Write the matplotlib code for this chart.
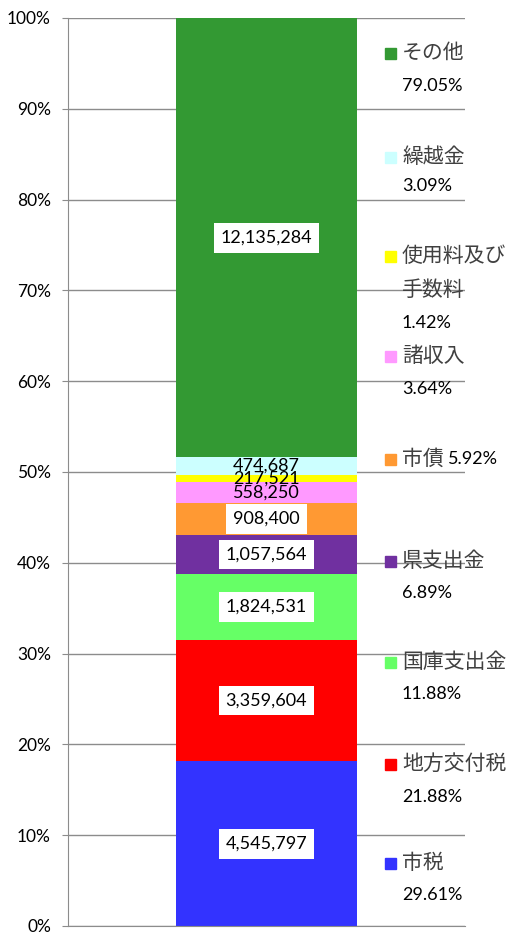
"""Single 100% stacked bar of revenue sources."""
import matplotlib
matplotlib.use('Agg')
from matplotlib import pyplot as plt
from matplotlib.patches import Rectangle
from matplotlib.ticker import PercentFormatter

categories = ['市税', '地方交付税', '国庫支出金', '県支出金', '市債',
              '諸収入', '使用料及び手数料', '繰越金', 'その他']
values = [4545797, 3359604, 1824531, 1057564, 908400,
          558250, 217521, 474687, 12135284]
value_labels = ['4,545,797', '3,359,604', '1,824,531', '1,057,564', '908,400',
                '558,250', '217,521', '474,687', '12,135,284']
legend_names = ['市税', '地方交付税', '国庫支出金', '県支出金', '市債 5.92%',
                '諸収入', '使用料及び\n手数料', '繰越金', 'その他']
legend_pcts = ['29.61%', '21.88%', '11.88%', '6.89%', '',
               '3.64%', '1.42%', '3.09%', '79.05%']
colors = ['#3333FF', '#FF0000', '#66FF66', '#7030A0', '#FF9933',
          '#FF99FF', '#FFFF00', '#CCFFFF', '#339933']
boxed = [True, True, True, True, True, False, False, False, True]

CJK = ['Noto Sans CJK JP', 'DejaVu Sans']


def plot():
    fig = plt.figure(figsize=(5.1, 9.33), dpi=100)
    ax = fig.add_axes([68 / 510, 7 / 933, 397 / 510, 908 / 933])

    total = float(sum(values))
    shares = [v / total * 100 for v in values]
    bottom = 0.0
    for share, col, lab, box in zip(shares, colors, value_labels, boxed):
        ax.bar(0, share, width=0.5, bottom=bottom, color=col, zorder=2)
        y = bottom + share / 2
        if box:
            ax.text(0, y, lab, ha='center', va='center', fontsize=13,
                    family='Lato', zorder=4,
                    bbox=dict(facecolor='white', edgecolor='none', pad=5))
        else:
            ax.text(0, y, lab, ha='center', va='center', fontsize=13,
                    family='Lato', zorder=4)
        bottom += share

    ax.set_xlim(-0.548, 0.548)
    ax.set_ylim(0, 100)
    ax.set_yticks(range(0, 101, 10))
    ax.yaxis.set_major_formatter(PercentFormatter(decimals=0))
    ax.set_xticks([])
    ax.grid(axis='y', color='#8c8c8c', linewidth=1, zorder=1)
    for side in ['top', 'right']:
        ax.spines[side].set_visible(False)
    ax.spines['left'].set_color('#8c8c8c')
    ax.spines['bottom'].set_color('#8c8c8c')
    ax.tick_params(axis='y', length=4.3, color='#8c8c8c', labelsize=12.5,
                   pad=8)
    for t in ax.get_yticklabels():
        t.set_family('Lato')

    # legend entries placed beside the bar (pixel rows)
    name_rows = [863, 764, 662, 561, 459, 356, 256, 157, 53]
    pct_rows = [895, 797, 694, 593, None, 389, 323, 186, 86]
    for name, pct, col, yn, yp in zip(legend_names, legend_pcts, colors,
                                      name_rows, pct_rows):
        if '\n' in name:
            first, second = name.split('\n')
            fig.text(402 / 510, 1 - yn / 933, first, family=CJK,
                     fontsize=15, va='center', ha='left', color='#404040')
            fig.text(402 / 510, 1 - 290 / 933, second, family=CJK,
                     fontsize=15, va='center', ha='left', color='#404040')
        elif name.startswith('市債'):
            fig.text(402 / 510, 1 - yn / 933, '市債', family=CJK,
                     fontsize=15, va='center', ha='left', color='#404040')
            fig.text(448 / 510, 1 - yn / 933, name.split(' ')[1],
                     family='Lato', fontsize=13, va='center', ha='left',
                     color='black')
        else:
            fig.text(402 / 510, 1 - yn / 933, name, family=CJK, fontsize=15,
                     va='center', ha='left', color='#404040')
        fig.patches.append(Rectangle((385 / 510, 1 - (yn + 6) / 933),
                                     11 / 510, 11 / 933, color=col,
                                     transform=fig.transFigure,
                                     figure=fig))
        if yp is not None:
            fig.text(402 / 510, 1 - yp / 933, pct, family='Lato',
                     fontsize=13, va='center', ha='left', color='black')

    fig.savefig('out.png', dpi=100)


if __name__ == '__main__':
    plot()
